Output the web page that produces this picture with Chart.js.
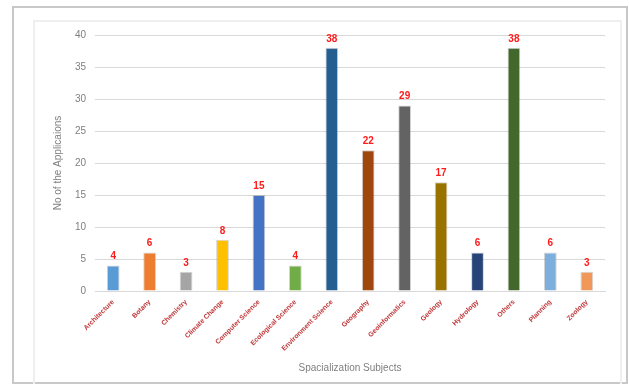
<!DOCTYPE html>
<html>
<head>
<meta charset="utf-8">
<script src="https://cdn.jsdelivr.net/npm/chart.js@4"></script>
<style>
html,body{margin:0;padding:0;background:#fff;}
#wrap{position:relative;width:629px;height:384px;}
#outer{position:absolute;left:12px;top:6px;width:612px;height:374px;border:2px solid #c8c8c8;box-sizing:content-box;}
#inner{position:absolute;left:33px;top:20px;width:585px;height:380px;border:2px solid #efefef;}
canvas{position:absolute;left:0;top:0;}
</style>
</head>
<body>
<div id="wrap">
<div id="outer"></div>
<div id="inner"></div>
<canvas id="c" width="629" height="384"></canvas>
</div>
<script>
const categories = ["Architecture","Botany","Chemistry","Climate Change","Computer Science","Ecological Science","Environment Science","Geography","Geoinformatics","Geology","Hydrology","Others","Planning","Zoology"];
const values = [4,6,3,8,15,4,38,22,29,17,6,38,6,3];
const barColors = ["#5b9bd5","#ed7d31","#a5a5a5","#ffc000","#4472c4","#70ad47","#255e91","#9e480e","#636363","#997300","#264478","#43682b","#7cafdd","#f1975a"];
const yTicks = [0,5,10,15,20,25,30,35,40];

const valueLabels = {
  id: 'valueLabels',
  afterDatasetsDraw(chart) {
    const ctx = chart.ctx;
    const meta = chart.getDatasetMeta(0);
    ctx.save();
    ctx.fillStyle = '#ff1a1a';
    ctx.font = 'bold 10px "Liberation Sans", Arial, sans-serif';
    ctx.textAlign = 'center';
    ctx.textBaseline = 'bottom';
    meta.data.forEach((bar, i) => {
      ctx.fillText(String(chart.data.datasets[0].data[i]), bar.x, bar.y - 4);
    });
    ctx.restore();
  }
};

new Chart(document.getElementById('c'), {
  type: 'bar',
  data: {
    labels: categories,
    datasets: [{
      data: values,
      backgroundColor: barColors,
      borderColor: 'rgba(110,110,110,0.3)',
      borderWidth: 1,
      barPercentage: 0.7,
      categoryPercentage: 0.5
    }]
  },
  options: {
    responsive: false,
    animation: false,
    devicePixelRatio: 1,
    layout: { padding: { left: 52, right: 24, top: 35, bottom: 10 } },
    plugins: { legend: { display: false }, tooltip: { enabled: false } },
    scales: {
      y: {
        min: 0, max: 40,
        afterFit(s) { s.width = 43; },
        afterBuildTicks(s) { s.ticks = yTicks.map(v => ({ value: v })); },
        grid: { color: '#d9d9d9', drawTicks: false },
        border: { display: false },
        ticks: { color: '#7f7f7f', padding: 9, font: { family: '"Liberation Sans", Arial, sans-serif', size: 10 } },
        title: { display: true, text: 'No of the Applicaions', color: '#7f7f7f', padding: { top: 0, bottom: 4 }, font: { family: '"Liberation Sans", Arial, sans-serif', size: 10 } }
      },
      x: {
        afterFit(s) { s.height = 83; },
        grid: { display: false, drawTicks: false },
        border: { display: true, color: '#d9d9d9' },
        ticks: { color: '#c0393b', maxRotation: 45, minRotation: 45, padding: 7, font: { family: '"Liberation Sans", Arial, sans-serif', size: 6.8, weight: 'bold' } },
        title: { display: true, text: 'Spacialization Subjects', color: '#7f7f7f', padding: { top: 0, bottom: 0 }, font: { family: '"Liberation Sans", Arial, sans-serif', size: 10 } }
      }
    }
  },
  plugins: [valueLabels]
});
</script>
</body>
</html>
